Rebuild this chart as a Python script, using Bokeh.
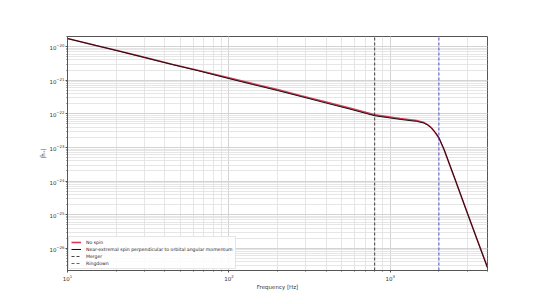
from bokeh.plotting import figure
from bokeh.models import Range1d, Legend, LegendItem
from bokeh.embed import file_html
from bokeh.resources import INLINE

# ---- data ----
freq = [10, 15, 20, 30, 45, 65, 100, 140, 200, 280, 400, 560, 800, 1150,
        1450, 1600, 1700, 1800, 1900, 2000, 2150, 2500, 3000, 3500, 4000]
h_no_spin = [1.74e-20, 1.08e-20, 7.76e-21, 4.79e-21, 2.95e-21, 1.95e-21,
             1.175e-21, 7.94e-22, 5.25e-22, 3.47e-22, 2.24e-22, 1.48e-22,
             9.33e-23, 7.24e-23, 6.31e-23, 5.62e-23, 4.79e-23, 3.80e-23,
             2.75e-23, 1.91e-23, 8.71e-24, 1.23e-24, 1.12e-25, 1.51e-26,
             2.69e-27]
h_spin = [1.74e-20, 1.08e-20, 7.70e-21, 4.75e-21, 2.90e-21, 1.90e-21,
          1.12e-21, 7.50e-22, 4.95e-22, 3.27e-22, 2.10e-22, 1.39e-22,
          8.80e-23, 6.85e-23, 6.00e-23, 5.40e-23, 4.70e-23, 3.80e-23,
          2.80e-23, 1.95e-23, 8.90e-24, 1.25e-24, 1.12e-25, 1.50e-26,
          2.65e-27]
merger_freq = 800
ringdown_freq = 2000
x_lo, x_hi = 10, 4000
y_lo, y_hi = 2.19e-27, 2.0e-20

labels = ["No spin",
          "Near-extremal spin perpendicular to orbital angular momentum",
          "Merger", "Ringdown"]

FONT = "DejaVu Sans"

p = figure(width=540, height=304, x_axis_type="log", y_axis_type="log",
           x_range=Range1d(x_lo, x_hi), y_range=Range1d(y_lo, y_hi),
           output_backend="svg", toolbar_location=None,
           min_border_left=67, min_border_right=53,
           min_border_top=36, min_border_bottom=34)
p.background_fill_color = "white"
p.border_fill_color = "white"
p.outline_line_color = "#555555"
p.outline_line_width = 1

for ax in (p.xaxis[0], p.yaxis[0]):
    ax.major_label_text_font = FONT
    ax.major_label_text_font_size = "5.5px"
    ax.major_label_text_color = "#333333"
    ax.axis_label_text_font = FONT
    ax.axis_label_text_font_size = "5.5px"
    ax.axis_label_text_font_style = "normal"
    ax.axis_label_text_color = "#333333"
    ax.axis_line_color = "#555555"
    ax.major_tick_line_color = "#555555"
    ax.minor_tick_line_color = "#555555"
    ax.major_tick_out = 2
    ax.major_tick_in = 0
    ax.minor_tick_out = 1
    ax.minor_tick_in = 0
    ax.axis_label_standoff = 0
    ax.major_label_standoff = 1

p.xaxis.axis_label = "Frequency [Hz]"
p.yaxis.axis_label = "|h\u0303\u208a|"

for g in (p.xgrid[0], p.ygrid[0]):
    g.grid_line_color = "#cfcfcf"
    g.grid_line_width = 0.8
    g.minor_grid_line_color = "#e0e0e0"
    g.minor_grid_line_width = 0.8

r_red = p.line(freq, h_no_spin, line_color="#d23c58", line_width=1.6)
r_blk = p.line(freq, h_spin, line_color="#111111", line_width=1.0)
r_mer = p.line([merger_freq, merger_freq], [y_lo, y_hi],
               line_color="#111111", line_width=0.8, line_dash="3 2")
r_rin = p.line([ringdown_freq, ringdown_freq], [y_lo, y_hi],
               line_color="#2a2ad0", line_width=0.8, line_dash="3 2")

legend = Legend(items=[LegendItem(label=labels[0], renderers=[r_red]),
                       LegendItem(label=labels[1], renderers=[r_blk]),
                       LegendItem(label=labels[2], renderers=[r_mer]),
                       LegendItem(label=labels[3], renderers=[r_rin])],
                location="bottom_left")
legend.label_text_font = FONT
legend.label_text_font_size = "4.6px"
legend.label_text_color = "#222222"
legend.label_height = 6
legend.glyph_height = 6
legend.glyph_width = 10
legend.label_standoff = 5
legend.spacing = 1
legend.padding = 2
legend.margin = 1
legend.border_line_color = "#cccccc"
legend.background_fill_alpha = 0.85
p.add_layout(legend)

open("out.html", "w").write(file_html(p, INLINE))
